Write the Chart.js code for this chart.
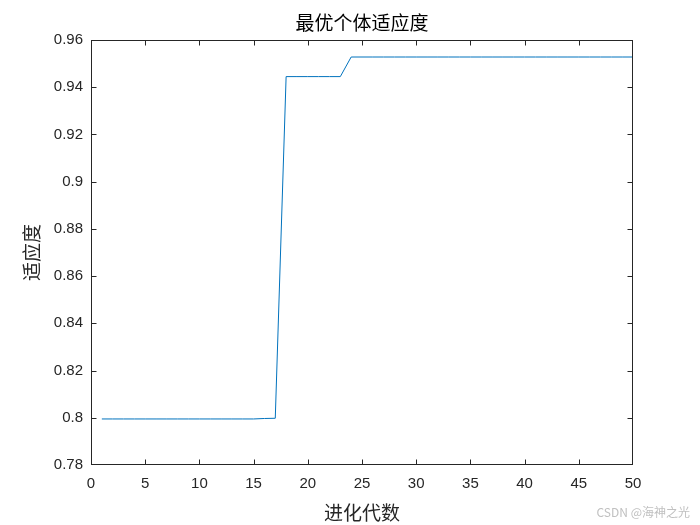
<!DOCTYPE html>
<html><head><meta charset="utf-8">
<script src="https://cdn.jsdelivr.net/npm/chart.js@4/dist/chart.umd.min.js"></script>
<style>html,body{margin:0;padding:0;background:#fff}#wrap{position:relative;width:700px;height:525px}
#wm{position:absolute;right:10px;bottom:5px;font:12px "Noto Sans CJK SC",sans-serif;color:#c0c0c0}</style>
</head><body><div id="wrap"><canvas id="c" width="700" height="525"></canvas><div id="wm">CSDN @海神之光</div></div>
<script>
const generations = [1,2,3,4,5,6,7,8,9,10,11,12,13,14,15,16,17,18,19,20,21,22,23,24,25,26,27,28,29,30,31,32,33,34,35,36,37,38,39,40,41,42,43,44,45,46,47,48,49,50];
const bestFitness = [0.7995,0.7995,0.7995,0.7995,0.7995,0.7995,0.7995,0.7995,0.7995,0.7995,0.7995,0.7995,0.7995,0.7995,0.7995,0.7997,0.7998,0.9445,0.9445,0.9445,0.9445,0.9445,0.9445,0.9528,0.9528,0.9528,0.9528,0.9528,0.9528,0.9528,0.9528,0.9528,0.9528,0.9528,0.9528,0.9528,0.9528,0.9528,0.9528,0.9528,0.9528,0.9528,0.9528,0.9528,0.9528,0.9528,0.9528,0.9528,0.9528,0.9528];
const xTicks = [0,5,10,15,20,25,30,35,40,45,50];
const yTicks = [0.78,0.8,0.82,0.84,0.86,0.88,0.9,0.92,0.94,0.96];
const titleText = '最优个体适应度';
const xLabel = '进化代数';
const yLabel = '适应度';

const tickFont = {family:'"Liberation Sans", Arial, sans-serif', size:15};
const cjkFont = {family:'"Noto Sans CJK SC", sans-serif', size:19};

const boxTicks = {
  id:'boxTicks',
  afterDraw(chart){
    const {ctx, chartArea:a, scales} = chart;
    const l = Math.round(a.left)+0.5, r = Math.round(a.right)-0.5, t = Math.round(a.top)+0.5, b = Math.round(a.bottom)-0.5;
    ctx.save();
    ctx.strokeStyle = '#262626'; ctx.lineWidth = 1;
    ctx.strokeRect(l, t, r-l, b-t);
    const L = 5;
    ctx.beginPath();
    xTicks.forEach(v=>{
      const x = Math.min(r, Math.max(l, Math.round(scales.x.getPixelForValue(v))+0.5));
      ctx.moveTo(x, b); ctx.lineTo(x, b-L);
      ctx.moveTo(x, t); ctx.lineTo(x, t+L);
    });
    yTicks.forEach(v=>{
      const y = Math.min(b, Math.max(t, Math.round(scales.y.getPixelForValue(v))+0.5));
      ctx.moveTo(l, y); ctx.lineTo(l+L, y);
      ctx.moveTo(r, y); ctx.lineTo(r-L, y);
    });
    ctx.stroke();
    ctx.fillStyle = '#000';
    ctx.font = cjkFont.size + 'px ' + cjkFont.family;
    ctx.textAlign = 'center'; ctx.textBaseline = 'middle';
    ctx.fillText(titleText, (a.left + a.right)/2, 23);
    ctx.restore();
  }
};

new Chart(document.getElementById('c'), {
  type:'line',
  data:{datasets:[{data:generations.map((g,i)=>({x:g,y:bestFitness[i]})), borderColor:'#0072BD', borderWidth:1, pointRadius:0, tension:0, fill:false}]},
  options:{
    responsive:false, animation:false, devicePixelRatio:1,
    layout:{padding:{left:20,right:67,top:40,bottom:0}},
    plugins:{legend:{display:false}, tooltip:{enabled:false}, title:{display:false}},
    scales:{
      x:{type:'linear', min:0, max:50,
        afterBuildTicks(s){ s.ticks = xTicks.map(v=>({value:v})); },
        afterFit(s){ s.height = 60; },
        grid:{display:false, drawTicks:false}, border:{display:false},
        ticks:{font:tickFont, color:'#262626', padding:10, maxRotation:0, callback:v=>String(v)},
        title:{display:true, text:xLabel, color:'#262626', font:cjkFont, padding:{top:4,bottom:1}}},
      y:{type:'linear', min:0.78, max:0.96,
        afterBuildTicks(s){ s.ticks = yTicks.map(v=>({value:v})); },
        afterFit(s){ s.width = 71; },
        grid:{display:false, drawTicks:false}, border:{display:false},
        ticks:{font:tickFont, color:'#262626', padding:8, callback:v=>String(+v.toFixed(2))},
        title:{display:true, text:yLabel, color:'#262626', font:cjkFont, padding:{top:0,bottom:4}}}
    }
  },
  plugins:[boxTicks]
});
</script></body></html>
